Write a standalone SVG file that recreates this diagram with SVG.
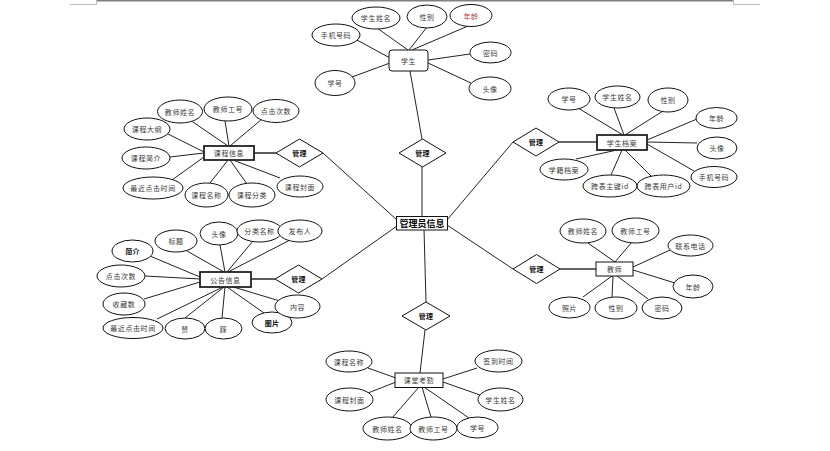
<svg xmlns="http://www.w3.org/2000/svg" width="830" height="451" viewBox="0 0 830 451">
<style>
.bg{fill:#fff}
.el{fill:#fff;stroke:#111;stroke-width:1}
.bx{fill:#fff;stroke:#111;stroke-width:1}
.bxt{fill:#fff;stroke:#222;stroke-width:1.8}
.dm{fill:#fff;stroke:#111;stroke-width:1}
.ln{stroke:#222;stroke-width:1;fill:none}
.lt{stroke:#333;stroke-width:1.6;fill:none}
.pg{stroke:#808080;stroke-width:1.4;fill:none}
.pc{stroke:#bbbbbb;stroke-width:1;fill:none}
text{font-family:"Noto Sans CJK SC","Noto Sans",sans-serif;font-size:7px;fill:#3a3a3a;text-anchor:middle;dominant-baseline:central;letter-spacing:0.6px}
.b{font-weight:bold;fill:#111;letter-spacing:0.2px}
.c{font-size:9px;font-weight:bold;fill:#000;letter-spacing:0}
.r{fill:#b03a3a}
</style>
<rect class="bg" x="0" y="0" width="830" height="451"/>
<g id="page-marks">
<line class="pg" x1="96" y1="0.7" x2="734" y2="0.7"/>
<polyline class="pc" points="70,4.5 96.5,4.5 96.5,0"/>
<polyline class="pc" points="760,4.5 733.5,4.5 733.5,0"/>
</g>
<g id="connectors">
<line class="ln" x1="377" y1="28" x2="408" y2="50"/>
<line class="ln" x1="427" y1="27" x2="409" y2="50"/>
<line class="ln" x1="468" y1="26" x2="412" y2="50"/>
<line class="ln" x1="357" y1="40" x2="390" y2="58"/>
<line class="ln" x1="352" y1="77" x2="390" y2="63"/>
<line class="ln" x1="470" y1="54" x2="428" y2="60"/>
<line class="ln" x1="471" y1="83" x2="428" y2="63"/>
<line class="ln" x1="410" y1="71" x2="422" y2="139"/>
<line class="ln" x1="422" y1="167" x2="422" y2="216"/>
<line class="ln" x1="190" y1="120" x2="228" y2="146"/>
<line class="ln" x1="225" y1="121" x2="229" y2="146"/>
<line class="ln" x1="262" y1="119" x2="230" y2="146"/>
<line class="ln" x1="166" y1="133" x2="204" y2="152"/>
<line class="ln" x1="170" y1="157" x2="204" y2="153"/>
<line class="ln" x1="172" y1="180" x2="204" y2="157"/>
<line class="ln" x1="210" y1="183" x2="228" y2="160"/>
<line class="ln" x1="247" y1="184" x2="230" y2="160"/>
<line class="ln" x1="280" y1="178" x2="233" y2="160"/>
<line class="lt" x1="254" y1="153" x2="276" y2="153"/>
<line class="ln" x1="323" y1="153" x2="397" y2="220"/>
<line class="ln" x1="578" y1="108" x2="623" y2="135"/>
<line class="ln" x1="614" y1="108" x2="624" y2="135"/>
<line class="ln" x1="663" y1="111" x2="625" y2="135"/>
<line class="ln" x1="697" y1="119" x2="647" y2="140"/>
<line class="ln" x1="697" y1="143" x2="647" y2="142"/>
<line class="ln" x1="694" y1="171" x2="647" y2="144"/>
<line class="ln" x1="576" y1="159" x2="617" y2="150"/>
<line class="ln" x1="611" y1="175" x2="622" y2="150"/>
<line class="ln" x1="652" y1="177" x2="625" y2="150"/>
<line class="lt" x1="559" y1="142" x2="597" y2="142"/>
<line class="ln" x1="513" y1="142" x2="447" y2="220"/>
<line class="ln" x1="150" y1="256" x2="200" y2="277"/>
<line class="ln" x1="187" y1="251" x2="224" y2="272"/>
<line class="ln" x1="220" y1="245" x2="225" y2="272"/>
<line class="ln" x1="253" y1="241" x2="227" y2="272"/>
<line class="ln" x1="290" y1="240" x2="228" y2="272"/>
<line class="ln" x1="145" y1="276" x2="200" y2="279"/>
<line class="ln" x1="144" y1="299" x2="200" y2="282"/>
<line class="ln" x1="157" y1="319" x2="223" y2="287"/>
<line class="ln" x1="185" y1="318" x2="224" y2="287"/>
<line class="ln" x1="222" y1="318" x2="225" y2="287"/>
<line class="ln" x1="264" y1="313" x2="227" y2="287"/>
<line class="ln" x1="280" y1="301" x2="230" y2="286"/>
<line class="lt" x1="251" y1="279" x2="275" y2="279"/>
<line class="ln" x1="322" y1="279" x2="397" y2="226"/>
<line class="ln" x1="588" y1="243" x2="615" y2="262"/>
<line class="ln" x1="632" y1="242" x2="615" y2="262"/>
<line class="ln" x1="670" y1="250" x2="633" y2="267"/>
<line class="ln" x1="675" y1="283" x2="633" y2="270"/>
<line class="ln" x1="583" y1="297" x2="612" y2="276"/>
<line class="ln" x1="612" y1="297" x2="613" y2="276"/>
<line class="ln" x1="648" y1="299" x2="617" y2="276"/>
<line class="lt" x1="560" y1="269" x2="596" y2="269"/>
<line class="ln" x1="513" y1="269" x2="447" y2="225"/>
<line class="ln" x1="424" y1="229" x2="426" y2="302"/>
<line class="ln" x1="425" y1="330" x2="420" y2="373"/>
<line class="ln" x1="368" y1="368" x2="396" y2="378"/>
<line class="ln" x1="368" y1="393" x2="396" y2="382"/>
<line class="ln" x1="477" y1="368" x2="443" y2="379"/>
<line class="ln" x1="480" y1="395" x2="443" y2="382"/>
<line class="ln" x1="392" y1="418" x2="419" y2="387"/>
<line class="ln" x1="431" y1="417" x2="422" y2="387"/>
<line class="ln" x1="469" y1="418" x2="424" y2="387"/>
</g>
<g id="admin"><rect class="bx" x="396.5" y="216.5" width="51" height="13.5"/><text class="c" x="422" y="223.5">管理员信息</text></g>
<g id="rel-student"><polygon class="dm" points="422.5,139 446,153 422.5,167 399,153"/><text class="b" x="422.5" y="153">管理</text></g>
<g id="rel-course"><polygon class="dm" points="299.5,139 323,153 299.5,167 276,153"/><text class="b" x="299.5" y="153">管理</text></g>
<g id="rel-archive"><polygon class="dm" points="536,128 559,142 536,156 513,142"/><text class="b" x="536" y="142">管理</text></g>
<g id="rel-notice"><polygon class="dm" points="298.5,265 322,279 298.5,293 275,279"/><text class="b" x="298.5" y="279">管理</text></g>
<g id="rel-teacher"><polygon class="dm" points="536.5,254.5 560,269 536.5,283.5 513,269"/><text class="b" x="536.5" y="269">管理</text></g>
<g id="rel-attendance"><polygon class="dm" points="426,302 450,316 426,330 402,316"/><text class="b" x="426" y="316">管理</text></g>

<g id="student">
<rect class="bx" x="389" y="50" width="39" height="21" rx="3"/><text x="408.5" y="60.5">学生</text>
<ellipse class="el" cx="376" cy="18" rx="24" ry="11"/><text x="376" y="18">学生姓名</text>
<ellipse class="el" cx="427" cy="16.5" rx="20" ry="11.5"/><text x="427" y="16.5">性别</text>
<ellipse class="el" cx="471" cy="15.5" rx="21" ry="11"/><text class="r" x="471" y="15.5">年龄</text>
<ellipse class="el" cx="336" cy="35" rx="24" ry="11"/><text x="336" y="35">手机号码</text>
<ellipse class="el" cx="335" cy="83" rx="20" ry="12.5"/><text x="335" y="83">学号</text>
<ellipse class="el" cx="490.5" cy="52.5" rx="20.5" ry="10.5"/><text x="490.5" y="52.5">密码</text>
<ellipse class="el" cx="490" cy="88.5" rx="21" ry="11.5"/><text x="490" y="88.5">头像</text>
</g>

<g id="course-info">
<rect class="bxt" x="204" y="146" width="50" height="14"/><text x="229" y="153">课程信息</text>
<ellipse class="el" cx="180" cy="111.5" rx="22.5" ry="11.5"/><text x="180" y="111.5">教师姓名</text>
<ellipse class="el" cx="228" cy="109" rx="24" ry="12"/><text x="228" y="109">教师工号</text>
<ellipse class="el" cx="276" cy="111" rx="23" ry="11.5"/><text x="276" y="111">点击次数</text>
<ellipse class="el" cx="147" cy="129" rx="23" ry="11"/><text x="147" y="129">课程大纲</text>
<ellipse class="el" cx="146" cy="158" rx="24" ry="11"/><text x="146" y="158">课程简介</text>
<ellipse class="el" cx="153" cy="188" rx="30" ry="11"/><text x="153" y="188">最近点击时间</text>
<ellipse class="el" cx="206.5" cy="195" rx="21.5" ry="12"/><text x="206.5" y="195">课程名称</text>
<ellipse class="el" cx="252" cy="195" rx="23" ry="12"/><text x="252" y="195">课程分类</text>
<ellipse class="el" cx="300" cy="186.5" rx="23" ry="10.5"/><text x="300" y="186.5">课程封面</text>
</g>

<g id="student-archive">
<rect class="bxt" x="597" y="135" width="50" height="15"/><text x="622" y="142.5">学生档案</text>
<ellipse class="el" cx="569" cy="99" rx="21" ry="11"/><text x="569" y="99">学号</text>
<ellipse class="el" cx="617.5" cy="97" rx="22.5" ry="11"/><text x="617.5" y="97">学生姓名</text>
<ellipse class="el" cx="668" cy="100" rx="20" ry="12"/><text x="668" y="100">性别</text>
<ellipse class="el" cx="716.5" cy="118" rx="20.5" ry="10.5"/><text x="716.5" y="118">年龄</text>
<ellipse class="el" cx="717" cy="148" rx="20" ry="11"/><text x="717" y="148">头像</text>
<ellipse class="el" cx="714" cy="177" rx="23" ry="10.5"/><text x="714" y="177">手机号码</text>
<ellipse class="el" cx="564" cy="169.5" rx="24" ry="10.5"/><text x="564" y="169.5">学籍档案</text>
<ellipse class="el" cx="610" cy="186" rx="27" ry="11"/><text x="610" y="186">跨表主键id</text>
<ellipse class="el" cx="663.5" cy="186" rx="26.5" ry="11"/><text x="663.5" y="186">跨表用户id</text>
</g>

<g id="notice-info">
<rect class="bxt" x="200" y="272" width="51" height="15"/><text x="225.5" y="279.5">公告信息</text>
<ellipse class="el" cx="132.5" cy="251" rx="20.5" ry="11"/><text class="b" x="132.5" y="251">简介</text>
<ellipse class="el" cx="176" cy="241" rx="21" ry="11"/><text x="176" y="241">标题</text>
<ellipse class="el" cx="219" cy="233.5" rx="19" ry="11.5"/><text x="219" y="233.5">头像</text>
<ellipse class="el" cx="259.5" cy="231" rx="22.5" ry="11"/><text x="259.5" y="231">分类名称</text>
<ellipse class="el" cx="300" cy="231" rx="22" ry="11"/><text x="300" y="231">发布人</text>
<ellipse class="el" cx="121" cy="276" rx="24" ry="11"/><text x="121" y="276">点击次数</text>
<ellipse class="el" cx="124" cy="304" rx="21" ry="11"/><text x="124" y="304">收藏数</text>
<ellipse class="el" cx="133" cy="328" rx="30" ry="10.5"/><text x="133" y="328">最近点击时间</text>
<ellipse class="el" cx="185" cy="328.5" rx="20" ry="10.5"/><text x="185" y="328.5">赞</text>
<ellipse class="el" cx="223.5" cy="328.5" rx="18.5" ry="10.5"/><text x="223.5" y="328.5">踩</text>
<ellipse class="el" cx="272" cy="322.5" rx="20" ry="10.5"/><text class="b" x="272" y="322.5">图片</text>
<ellipse class="el" cx="297.5" cy="306.5" rx="22.5" ry="11.5"/><text x="297.5" y="306.5">内容</text>
</g>

<g id="teacher">
<rect class="bx" x="596" y="262" width="37" height="14"/><text x="614.5" y="269">教师</text>
<ellipse class="el" cx="583" cy="231" rx="23" ry="12"/><text x="583" y="231">教师姓名</text>
<ellipse class="el" cx="635.5" cy="230.5" rx="23.5" ry="12.5"/><text x="635.5" y="230.5">教师工号</text>
<ellipse class="el" cx="690.5" cy="245.5" rx="22.5" ry="10.5"/><text x="690.5" y="245.5">联系电话</text>
<ellipse class="el" cx="693" cy="286.5" rx="20" ry="11.5"/><text x="693" y="286.5">年龄</text>
<ellipse class="el" cx="569.5" cy="307.5" rx="20.5" ry="10.5"/><text x="569.5" y="307.5">照片</text>
<ellipse class="el" cx="616" cy="308" rx="21" ry="11"/><text x="616" y="308">性别</text>
<ellipse class="el" cx="662" cy="308" rx="20" ry="11"/><text x="662" y="308">密码</text>
</g>

<g id="attendance">
<rect class="bx" x="395" y="373" width="48" height="14.5"/><text x="419" y="380">课堂考勤</text>
<ellipse class="el" cx="349" cy="361.5" rx="23" ry="10.5"/><text x="349" y="361.5">课程名称</text>
<ellipse class="el" cx="349.5" cy="399.5" rx="23.5" ry="11.5"/><text x="349.5" y="399.5">课程封面</text>
<ellipse class="el" cx="498.5" cy="361" rx="23.5" ry="11"/><text x="498.5" y="361">签到时间</text>
<ellipse class="el" cx="500.5" cy="399.5" rx="22.5" ry="11.5"/><text x="500.5" y="399.5">学生姓名</text>
<ellipse class="el" cx="387.5" cy="428.5" rx="24.5" ry="11.5"/><text x="387.5" y="428.5">教师姓名</text>
<ellipse class="el" cx="433.5" cy="428.5" rx="23.5" ry="11.5"/><text x="433.5" y="428.5">教师工号</text>
<ellipse class="el" cx="477.5" cy="427.5" rx="20.5" ry="10.5"/><text x="477.5" y="427.5">学号</text>
</g>
</svg>
